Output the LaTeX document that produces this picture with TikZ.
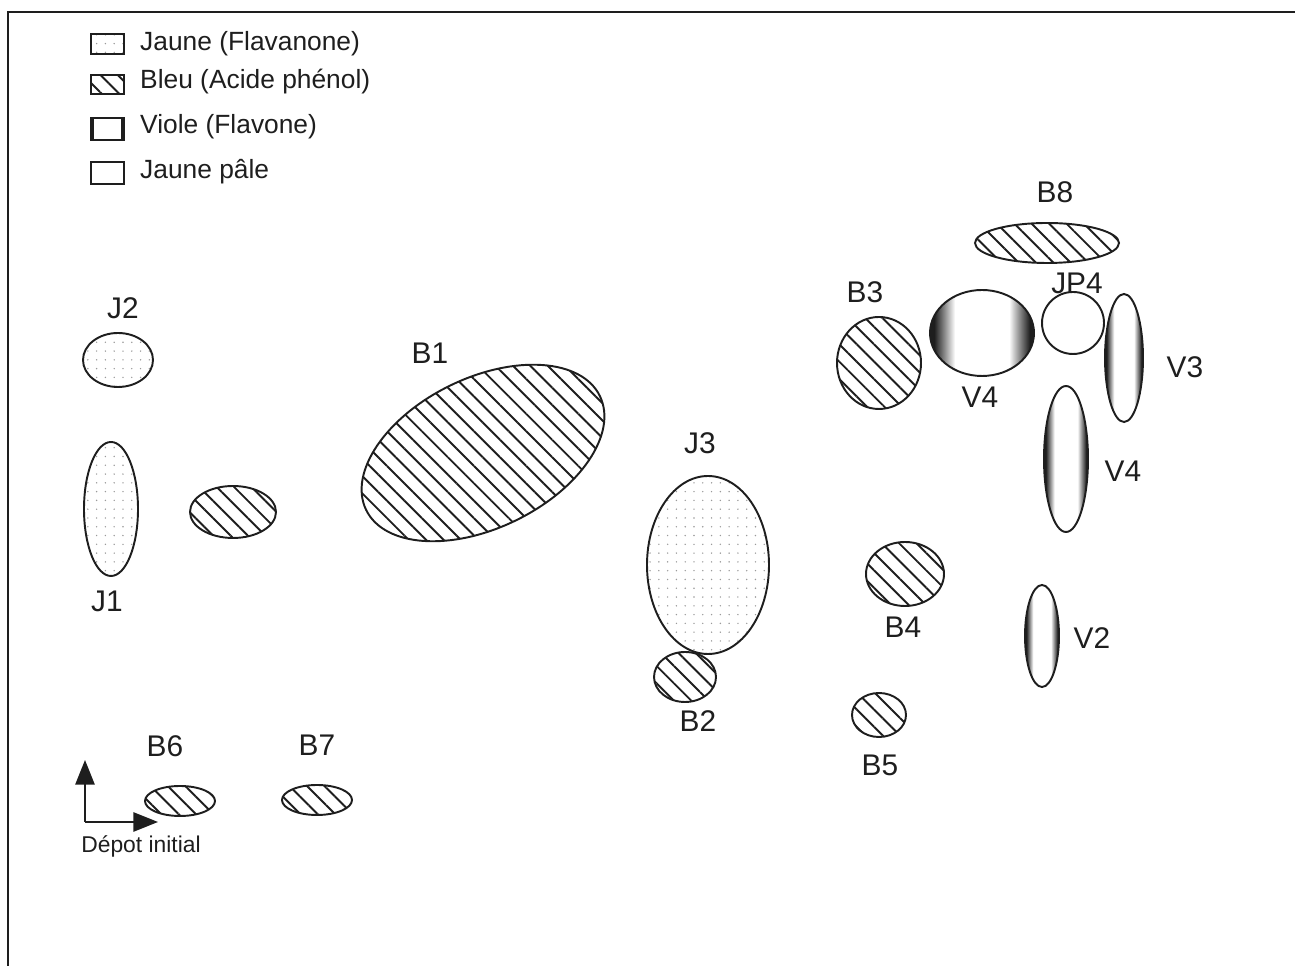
\documentclass[tikz,border=0pt]{standalone}
\usepackage{fontspec}
\setmainfont{Liberation Sans}
\usetikzlibrary{arrows.meta, patterns.meta}
\definecolor{Ink}{HTML}{1E1E1E}
\definecolor{DotGray}{HTML}{9A9A9A}
\pgfdeclarehorizontalshading{violeshade}{100bp}{color(0bp)=(Ink); color(27bp)=(Ink);
  color(32bp)=(black!45); color(37bp)=(white); color(63bp)=(white);
  color(68bp)=(black!45); color(73bp)=(Ink); color(100bp)=(Ink)}
\tikzset{
  spot/.style={draw=Ink, line width=1.1pt},
  jaune/.style={spot, pattern={Dots[distance=5pt, radius=0.45pt]}, pattern color=DotGray},
  bleu/.style={spot, pattern={Lines[angle=-45, distance=7pt, line width=1.1pt]}, pattern color=Ink},
  viole/.style={spot, shade, shading=violeshade},
  pale/.style={spot, fill=white},
  tag/.style={font=\fontsize{17}{20}\selectfont, text=Ink},
  leg/.style={font=\fontsize{15}{18}\selectfont, text=Ink, anchor=west},
  arr/.style={-{Triangle[length=14pt, width=11pt]}, line width=0.9pt, draw=Ink},
}
\begin{document}
\begin{tikzpicture}[x=0.02cm, y=0.02cm]
  \useasboundingbox (0,0) rectangle (1295,966);
  % frame
  \draw[Ink, line width=1.1pt] (8,0) -- (8,954) -- (1295,954);

  % legend
  \draw[jaune] (91,912) rectangle (124,932);
  \draw[bleu]  (91,872) rectangle (124,891);
  \draw[spot]  (91,826) rectangle (124,848);
  \draw[Ink, line width=2.2pt] (92,827) -- (92,847) (123,827) -- (123,847);
  \draw[pale]  (91,782) rectangle (124,804);
  \node (lj)  [leg] at (134,922) {Jaune (Flavanone)};
  \node (lb)  [leg] at (134,884) {Bleu (Acide phénol)};
  \node (lv)  [leg] at (134,839) {Viole (Flavone)};
  \node (lp)  [leg] at (134,794) {Jaune pâle};

  % spots
  \draw[jaune] (118,606) ellipse [x radius=35, y radius=27];
  \draw[jaune] (111,457) ellipse [x radius=27, y radius=67];
  \draw[bleu]  (233,454) ellipse [x radius=43, y radius=26];
  \draw[bleu]  (483,513) ellipse [x radius=130, y radius=75, rotate=26];
  \draw[jaune] (708,401) ellipse [x radius=61, y radius=89];
  \draw[bleu]  (685,289) ellipse [x radius=31, y radius=25];
  \draw[bleu]  (879,603) ellipse [x radius=42, y radius=46];
  \draw[viole] (982,633) ellipse [x radius=52, y radius=43];
  \draw[pale]  (1073,643) circle [radius=31];
  \draw[viole] (1124,608) ellipse [x radius=19, y radius=64];
  \draw[bleu]  (1047,723) ellipse [x radius=72, y radius=20];
  \draw[viole] (1066,507) ellipse [x radius=22, y radius=73];
  \draw[bleu]  (905,392) ellipse [x radius=39, y radius=32];
  \draw[viole] (1042,330) ellipse [x radius=17, y radius=51];
  \draw[bleu]  (879,251) ellipse [x radius=27, y radius=22];
  \draw[bleu]  (180,165) ellipse [x radius=35, y radius=15];
  \draw[bleu]  (317,166) ellipse [x radius=35, y radius=15];

  % labels
  \node (j2)  [tag] at (123,658)  {J2};
  \node (j1)  [tag] at (107,365)  {J1};
  \node (b1)  [tag] at (430,613)  {B1};
  \node (j3)  [tag] at (700,523)  {J3};
  \node (b2)  [tag] at (698,245)  {B2};
  \node (b3)  [tag] at (865,674)  {B3};
  \node (v4a) [tag] at (980,569)  {V4};
  \node (jp4) [tag] at (1077,683) {JP4};
  \node (v3)  [tag] at (1185,599) {V3};
  \node (b8)  [tag] at (1055,774) {B8};
  \node (v4b) [tag] at (1123,495) {V4};
  \node (b4)  [tag] at (903,339)  {B4};
  \node (v2)  [tag] at (1092,328) {V2};
  \node (b5)  [tag] at (880,201)  {B5};
  \node (b6)  [tag] at (165,220)  {B6};
  \node (b7)  [tag] at (317,221)  {B7};

  % depot
  \coordinate (o)  at (85,144);
  \coordinate (up) at (85,206);
  \coordinate (rt) at (158,144);
  \draw[arr] (o) -- (up);
  \draw[arr] (o) -- (rt);
  \node (dep) [font=\fontsize{13}{15}\selectfont, text=Ink] at (141,120) {Dépot initial};
\end{tikzpicture}
\end{document}
